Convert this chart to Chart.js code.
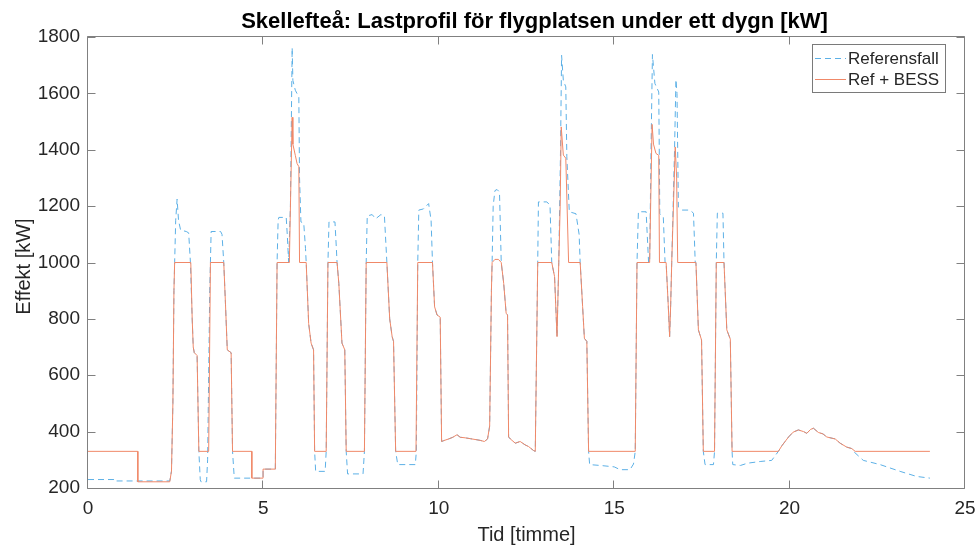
<!DOCTYPE html>
<html>
<head>
<meta charset="utf-8">
<script src="https://cdn.jsdelivr.net/npm/chart.js@4.4.1/dist/chart.umd.min.js"></script>
<style>
  html, body { margin: 0; padding: 0; background: #ffffff; overflow: hidden; }
  #wrap { width: 980px; height: 545px; position: relative; }
</style>
</head>
<body>
<div id="wrap"><canvas id="c" width="980" height="545"></canvas></div>
<script>
// Load profile over one day at the airport, hours vs kW
const refTime = [
  0, 0.74, 0.74, 2.33, 2.38, 2.42, 2.45, 2.47, 2.50, 2.54, 2.58, 2.64, 2.80, 2.87, 2.92, 2.97, 3.00, 3.03, 3.11, 3.16,
  3.20, 3.22, 3.38, 3.41, 3.47, 3.49, 3.51, 3.78, 3.82, 3.87, 3.92, 3.97, 4.08, 4.12, 4.17, 4.99, 4.99, 5.34, 5.39,
  5.42, 5.44, 5.65, 5.68, 5.72, 5.77, 5.82, 5.84, 5.91, 6.01, 6.03, 6.07, 6.15, 6.20, 6.22, 6.29, 6.36, 6.43, 6.46,
  6.49, 6.76, 6.79, 6.84, 6.87, 7.04, 7.08, 7.10, 7.15, 7.24, 7.32, 7.36, 7.40, 7.84, 7.88, 7.93, 7.96, 8.10, 8.20,
  8.35, 8.45, 8.52, 8.60, 8.67, 8.71, 8.77, 8.83, 9.33, 9.36, 9.40, 9.43, 9.56, 9.71, 9.78, 9.82, 9.88, 9.95, 10.04,
  10.08, 10.14, 10.28, 10.40, 10.52, 10.61, 10.75, 10.90, 11.18, 11.30, 11.39, 11.45, 11.50, 11.52, 11.55, 11.60,
  11.66, 11.73, 11.78, 11.85, 11.92, 11.96, 11.99, 12.04, 12.18, 12.32, 12.46, 12.56, 12.70, 12.75, 12.82, 12.84,
  13.08, 13.17, 13.22, 13.30, 13.37, 13.42, 13.47, 13.50, 13.55, 13.62, 13.65, 13.72, 13.91, 14.00, 14.03, 14.10,
  14.15, 14.22, 14.27, 14.30, 14.60, 15.00, 15.17, 15.45, 15.55, 15.60, 15.65, 15.69, 15.91, 15.98, 16.01, 16.05,
  16.09, 16.16, 16.27, 16.30, 16.40, 16.45, 16.48, 16.54, 16.58, 16.61, 16.64, 16.72, 16.76, 16.79, 16.83, 16.93,
  17.16, 17.26, 17.31, 17.33, 17.40, 17.49, 17.54, 17.59, 17.83, 17.86, 17.91, 17.94, 18.10, 18.13, 18.21, 18.31,
  18.36, 18.38, 18.60, 18.80, 19.16, 19.49, 19.68, 19.78, 19.97, 20.10, 20.25, 20.40, 20.49, 20.60, 20.68, 20.82,
  20.95, 21.06, 21.30, 21.44, 21.63, 21.77, 21.82, 22.10, 22.58, 23.15, 23.62, 24.00
];
const refKW = [
  230, 230, 225, 225, 260, 500, 900, 1000, 1150, 1225, 1150, 1115, 1110, 1105, 1000, 800, 700, 680, 670, 330,
  230, 222, 222, 300, 900, 1000, 1110, 1110, 1100, 1000, 850, 690, 680, 330, 235, 235, 267, 267, 1000,
  1150, 1160, 1160, 1100, 1000, 1200, 1762, 1646, 1611, 1587, 1300, 1144, 1140, 1050, 1000, 784, 714, 690, 330,
  259, 259, 330, 1000, 1144, 1144, 1050, 1000, 926, 714, 690, 330, 250, 250, 330, 1000, 1165, 1170, 1155,
  1170, 1165, 1000, 800, 737, 720, 330, 283, 283, 330, 1000, 1186, 1190, 1209, 1150, 1000, 843, 814, 806,
  365, 368, 374, 380, 389, 380, 378, 375, 369, 365, 374, 420, 900, 1000, 1200, 1255,
  1259, 1250, 1000, 926, 820, 814, 381, 374, 359, 365, 353, 347, 333, 330, 1000, 1215,
  1215, 1203, 1000, 950, 737, 1000, 1400, 1735, 1646, 1623, 1375, 1180, 1173, 1100, 1000, 843,
  731, 720, 330, 283, 280, 275, 265, 265, 285, 330, 1000, 1180, 1180, 1000, 1000, 1400,
  1738, 1635, 1605, 1173, 1161, 1000, 1000, 850, 737, 850, 1000, 1400, 1649, 1600, 1197, 1186,
  1186, 1175, 1000, 1000, 761, 725, 330, 283, 283, 330, 1000, 1175, 1175, 1000, 761, 728,
  330, 283, 280, 288, 294, 298, 330, 350, 381, 398, 406, 400, 394, 408, 412, 397,
  392, 381, 374, 359, 345, 340, 330, 298, 283, 259, 241, 235
];
const bessTime = [
  0, 1.42, 1.42, 2.33, 2.38, 2.42, 2.45, 2.47, 2.93, 2.97, 3.00, 3.03, 3.11, 3.16, 3.44, 3.49, 3.87, 3.92, 3.97,
  4.08, 4.12, 4.67, 4.67, 4.99, 4.99, 5.34, 5.39, 5.74, 5.82, 5.84, 5.91, 5.96, 6.01, 6.03, 6.22, 6.29, 6.36, 6.43,
  6.46, 6.79, 6.84, 7.10, 7.15, 7.24, 7.32, 7.36, 7.88, 7.93, 8.52, 8.60, 8.67, 8.71, 8.77, 9.35, 9.40, 9.82, 9.88,
  9.95, 10.04, 10.08, 10.14, 10.28, 10.40, 10.52, 10.61, 10.75, 10.90, 11.18, 11.30, 11.39, 11.45, 11.50, 11.52,
  11.60, 11.70, 11.78, 11.85, 11.92, 11.96, 11.99, 12.04, 12.18, 12.32, 12.46, 12.56, 12.70, 12.75, 12.82, 13.22,
  13.30, 13.37, 13.42, 13.46, 13.49, 13.55, 13.62, 13.70, 14.03, 14.10, 14.15, 14.22, 14.27, 15.60, 15.65, 16.01,
  16.08, 16.12, 16.19, 16.27, 16.29, 16.48, 16.54, 16.58, 16.61, 16.64, 16.74, 16.78, 16.81, 17.33, 17.40, 17.49,
  17.54, 17.86, 17.91, 18.13, 18.21, 18.31, 18.36, 19.68, 19.78, 19.97, 20.10, 20.25, 20.40, 20.49, 20.60, 20.68,
  20.82, 20.95, 21.06, 21.30, 21.44, 21.63, 21.77, 21.87, 24.00
];
const bessKW = [
  330, 330, 222, 222, 260, 500, 900, 1000, 1000, 800, 700, 680, 670, 330, 330, 1000, 1000, 850, 690,
  680, 330, 330, 235, 235, 267, 267, 1000, 1000, 1515, 1420, 1380, 1351, 1340, 1000, 1000, 784, 714, 690,
  330, 330, 1000, 1000, 926, 714, 690, 330, 330, 1000, 1000, 800, 737, 720, 330, 330, 1000, 1000, 843,
  814, 806, 365, 368, 374, 380, 389, 380, 378, 375, 369, 365, 374, 420, 900, 1000,
  1011, 1011, 1000, 926, 820, 814, 381, 374, 359, 365, 353, 347, 333, 330, 1000, 1000,
  950, 737, 1000, 1200, 1481, 1381, 1370, 1000, 1000, 843, 731, 720, 330, 330, 1000, 1000,
  1490, 1420, 1387, 1380, 1000, 1000, 850, 737, 850, 1000, 1410, 1300, 1000, 1000, 761, 725,
  330, 330, 1000, 1000, 761, 728, 330, 330, 350, 381, 398, 406, 400, 394, 408, 412,
  397, 392, 381, 374, 359, 345, 340, 330, 330
];
const xTickValues = [0, 5, 10, 15, 20, 25];
const yTickValues = [200, 400, 600, 800, 1000, 1200, 1400, 1600, 1800];
const seriesNames = ['Referensfall', 'Ref + BESS'];
const chartTitle = 'Skellefteå: Lastprofil för flygplatsen under ett dygn [kW]';
const xTitle = 'Tid [timme]';
const yTitle = 'Effekt [kW]';

const FONT = "'Liberation Sans', Arial, Helvetica, sans-serif";
const BLUE = '#5cb0e6';
const ORANGE = '#f08868';
const AXIS = '#808080';
const TEXT = '#262626';

const toPoints = (xs, ys) => xs.map((x, i) => ({ x: x, y: ys[i] }));

// Box around the plot with inward ticks on all four sides, plus titles and legend
const framePlugin = {
  id: 'frame',
  afterDatasetsDraw(chart) {
    const { ctx, chartArea: a, scales } = chart;
    const L = a.left - 0.5, R = a.right - 0.5, T = a.top - 0.5, B = a.bottom + 0.5;
    ctx.save();
    ctx.strokeStyle = AXIS;
    ctx.lineWidth = 1;
    ctx.beginPath();
    ctx.rect(L, T, R - L, B - T);
    const tl = 8;
    scales.x.ticks.forEach(t => {
      const px = Math.round(scales.x.getPixelForValue(t.value)) - 0.5;
      ctx.moveTo(px, B); ctx.lineTo(px, B - tl);
      ctx.moveTo(px, T); ctx.lineTo(px, T + tl);
    });
    scales.y.ticks.forEach(t => {
      const py = Math.round(scales.y.getPixelForValue(t.value)) + 0.5;
      ctx.moveTo(L, py); ctx.lineTo(L + tl, py);
      ctx.moveTo(R, py); ctx.lineTo(R - tl, py);
    });
    ctx.stroke();
    ctx.restore();
  },
  afterDraw(chart) {
    const { ctx, chartArea: a } = chart;
    ctx.save();
    // chart title
    ctx.fillStyle = '#000000';
    ctx.font = 'bold 22px ' + FONT;
    ctx.textAlign = 'center';
    ctx.textBaseline = 'alphabetic';
    ctx.fillText(chartTitle, (a.left + a.right) / 2 + 8, 28);
    // axis titles
    ctx.fillStyle = TEXT;
    ctx.font = '20px ' + FONT;
    ctx.fillText(xTitle, (a.left + a.right) / 2, 541);
    ctx.save();
    ctx.translate(30, (a.top + a.bottom) / 2 + 4);
    ctx.rotate(-Math.PI / 2);
    ctx.fillText(yTitle, 0, 0);
    ctx.restore();
    // legend
    const bx = 812.5, by = 44.5, bw = 133, bh = 48;
    ctx.fillStyle = '#ffffff';
    ctx.fillRect(bx, by, bw, bh);
    ctx.strokeStyle = '#7a7a7a';
    ctx.lineWidth = 1;
    ctx.strokeRect(bx, by, bw, bh);
    const rows = [
      { name: seriesNames[0], color: BLUE, dash: [6, 4], y: 58.5 },
      { name: seriesNames[1], color: ORANGE, dash: [], y: 79.5 }
    ];
    ctx.font = '17px ' + FONT;
    ctx.textAlign = 'left';
    ctx.textBaseline = 'middle';
    rows.forEach(r => {
      ctx.strokeStyle = r.color;
      ctx.setLineDash(r.dash);
      ctx.beginPath();
      ctx.moveTo(815, r.y); ctx.lineTo(846, r.y);
      ctx.stroke();
      ctx.setLineDash([]);
      ctx.fillStyle = TEXT;
      ctx.fillText(r.name, 848, r.y + 1);
    });
    ctx.restore();
  }
};

new Chart(document.getElementById('c'), {
  type: 'line',
  data: {
    datasets: [
      {
        label: seriesNames[0],
        data: toPoints(refTime, refKW),
        borderColor: BLUE,
        borderWidth: 1,
        borderDash: [6, 4],
        pointRadius: 0,
        tension: 0,
        fill: false,
        order: 1
      },
      {
        label: seriesNames[1],
        data: toPoints(bessTime, bessKW),
        borderColor: ORANGE,
        borderWidth: 1,
        pointRadius: 0,
        tension: 0,
        fill: false,
        order: 0
      }
    ]
  },
  options: {
    responsive: false,
    animation: false,
    devicePixelRatio: 1,
    layout: { padding: { left: 0, right: 15, top: 37, bottom: 0 } },
    plugins: {
      legend: { display: false },
      title: { display: false },
      tooltip: { enabled: false }
    },
    scales: {
      x: {
        type: 'linear',
        min: 0,
        max: 25,
        afterBuildTicks: s => { s.ticks = xTickValues.map(v => ({ value: v })); },
        afterFit: s => { s.height = 57; s.paddingLeft = 0; s.paddingRight = 0; },
        grid: { display: false, drawTicks: false },
        border: { display: false },
        ticks: { color: TEXT, font: { family: FONT, size: 19 }, padding: 9, maxRotation: 0, callback: v => String(v) }
      },
      y: {
        type: 'linear',
        min: 200,
        max: 1800,
        afterBuildTicks: s => { s.ticks = yTickValues.map(v => ({ value: v })); },
        afterFit: s => { s.width = 88; s.paddingTop = 0; s.paddingBottom = 0; },
        grid: { display: false, drawTicks: false },
        border: { display: false },
        ticks: { color: TEXT, font: { family: FONT, size: 19 }, padding: 8, callback: v => String(v) }
      }
    }
  },
  plugins: [framePlugin]
});
</script>
</body>
</html>
